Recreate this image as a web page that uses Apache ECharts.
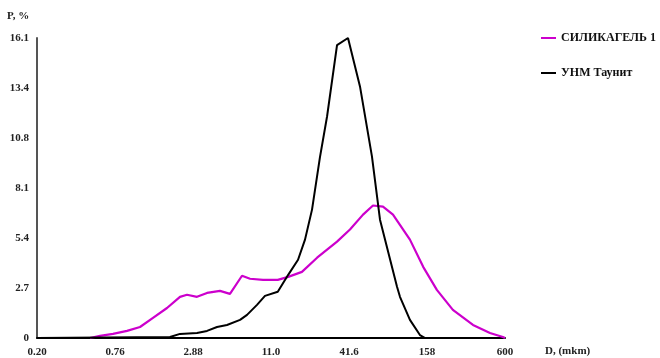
<!DOCTYPE html>
<html>
<head>
<meta charset="utf-8">
<script src="https://cdn.jsdelivr.net/npm/echarts@6/dist/echarts.min.js"></script>
<style>
html,body{margin:0;padding:0;background:#fff;}
#c{width:660px;height:358px;}
</style>
</head>
<body>
<div id="c"></div>
<script>
// Tick labels
var xTickLabels = ['0.20', '0.76', '2.88', '11.0', '41.6', '158', '600'];
var yTickLabels = ['0', '2.7', '5.4', '8.1', '10.8', '13.4', '16.1'];
var seriesNames = ['СИЛИКАГЕЛЬ 1', 'УНМ Таунит'];

// СИЛИКАГЕЛЬ 1: particle diameter D (mkm) and P (%)
var silicaD = [0.495, 0.588, 0.734, 0.933, 1.165, 1.455, 1.849, 2.309, 2.603, 3.089, 3.666, 4.578, 5.43, 6.67, 7.65, 9.56, 12.3, 14.7, 18.6, 24.1, 33.9, 42.3, 52.9, 62.7, 74.4, 88.3, 118, 148, 187, 246, 347, 464, 579, 600];
var silicaP = [0, 0.11, 0.22, 0.38, 0.59, 1.08, 1.61, 2.21, 2.32, 2.21, 2.42, 2.53, 2.37, 3.34, 3.18, 3.12, 3.12, 3.28, 3.55, 4.31, 5.17, 5.82, 6.62, 7.11, 7.05, 6.62, 5.28, 3.82, 2.58, 1.51, 0.70, 0.27, 0.05, 0];

// УНМ Таунит
var taunitD = [0.20, 1.946, 2.309, 3.089, 3.666, 4.35, 5.16, 6.45, 7.27, 8.62, 9.88, 12.3, 14.7, 17.4, 19.6, 22.1, 25.3, 28.6, 33.9, 40.9, 50.2, 61.6, 70.7, 94.6, 99.5, 118, 140, 153];
var taunitP = [0, 0.05, 0.22, 0.27, 0.38, 0.59, 0.70, 0.97, 1.24, 1.78, 2.26, 2.48, 3.39, 4.20, 5.28, 6.89, 9.69, 11.9, 15.72, 16.1, 13.5, 9.75, 6.35, 2.75, 2.21, 0.97, 0.16, 0];

var D_MIN = 0.2, D_MAX = 600, Y_MAX = 16.1;
var NSTEP = xTickLabels.length - 1;
function xPos(d) { return Math.log(d / D_MIN) / Math.log(D_MAX / D_MIN) * NSTEP; }
function pairs(ds, ps) { return ds.map(function (d, i) { return [xPos(d), ps[i]]; }); }

var labelFont = { fontFamily: 'Liberation Serif', fontWeight: 'bold', fontSize: 11, color: '#222' };

var chart = echarts.init(document.getElementById('c'), null, { renderer: 'canvas' });
chart.setOption({
  animation: false,
  backgroundColor: '#fff',
  grid: { left: 37, right: 155, top: 38, bottom: 20, containLabel: false },
  legend: {
    orient: 'vertical',
    left: 536,
    top: 26,
    itemWidth: 15,
    itemHeight: 2,
    itemGap: 21,
    icon: 'rect',
    data: seriesNames,
    textStyle: { fontFamily: 'Liberation Serif', fontWeight: 'bold', fontSize: 12, color: '#111', lineHeight: 14 }
  },
  xAxis: {
    type: 'value',
    min: 0,
    max: NSTEP,
    interval: 1,
    axisLine: { show: true, lineStyle: { color: '#000', width: 2 } },
    axisTick: { show: false },
    splitLine: { show: false },
    axisLabel: Object.assign({
      margin: 9,
      formatter: function (v) { return xTickLabels[Math.round(v)] || ''; }
    }, labelFont)
  },
  yAxis: {
    type: 'value',
    min: 0,
    max: Y_MAX,
    interval: Y_MAX / 6,
    axisLine: { show: true, lineStyle: { color: '#555', width: 2 } },
    axisTick: { show: false },
    splitLine: { show: false },
    axisLabel: Object.assign({
      margin: 8,
      formatter: function (v) { return yTickLabels[Math.round(v / (Y_MAX / 6))] || ''; }
    }, labelFont)
  },
  graphic: [
    { type: 'text', left: 7, top: 11, style: { text: 'P, %', font: 'bold 11px "Liberation Serif"', fill: '#222' } },
    { type: 'text', left: 545, top: 346, style: { text: 'D, (mkm)', font: 'bold 11px "Liberation Serif"', fill: '#222' } }
  ],
  series: [
    {
      name: seriesNames[0],
      type: 'line',
      data: pairs(silicaD, silicaP),
      showSymbol: false,
      smooth: false,
      lineStyle: { color: '#cc00cc', width: 2.2 },
      itemStyle: { color: '#cc00cc' },
      z: 2
    },
    {
      name: seriesNames[1],
      type: 'line',
      data: pairs(taunitD, taunitP),
      showSymbol: false,
      smooth: false,
      lineStyle: { color: '#000', width: 2 },
      itemStyle: { color: '#000' },
      z: 3
    }
  ]
});
</script>
</body>
</html>
